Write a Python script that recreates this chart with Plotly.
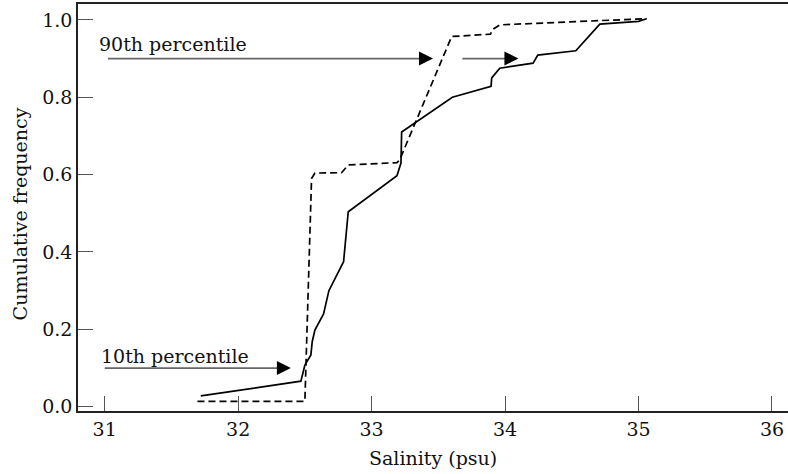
import plotly.graph_objects as go

# Solid curve (salinity, cumulative frequency)
solid_x = [31.72, 32.47, 32.50, 32.545, 32.555, 32.575, 32.64, 32.68, 32.79, 32.825,
           33.19, 33.22, 33.225, 33.605, 33.895, 33.90, 33.96, 34.21, 34.245, 34.53,
           34.71, 35.00, 35.06]
solid_y = [0.028, 0.066, 0.108, 0.134, 0.168, 0.198, 0.24, 0.30, 0.375, 0.504,
           0.597, 0.63, 0.71, 0.80, 0.828, 0.85, 0.875, 0.888, 0.909, 0.92,
           0.989, 0.996, 1.003]

# Dashed curve
dash_x = [31.695, 32.50, 32.55, 32.575, 32.775, 32.825, 33.19, 33.21, 33.60,
          33.89, 33.91, 33.96, 34.705, 35.06]
dash_y = [0.014, 0.014, 0.59, 0.604, 0.605, 0.625, 0.631, 0.638, 0.957,
          0.963, 0.976, 0.987, 0.998, 1.003]

x_ticks = [31, 32, 33, 34, 35, 36]
y_ticks = [0.0, 0.2, 0.4, 0.6, 0.8, 1.0]
y_tick_text = ["0.0", "0.2", "0.4", "0.6", "0.8", "1.0"]

# Percentile arrows: (x_start, x_end, y)
arrow_starts = [31.025, 33.68, 31.0]
arrow_ends = [33.46, 34.10, 32.395]
arrow_levels = [0.9, 0.9, 0.1]
label_texts = ["90th percentile", "10th percentile"]
label_x = [30.942, 30.957]
label_y = [0.938, 0.131]

FONT = "DejaVu Serif"
INK = "#111111"

fig = go.Figure()
fig.add_trace(go.Scatter(x=solid_x, y=solid_y, mode="lines",
                         line=dict(color="black", width=1.7), showlegend=False))
fig.add_trace(go.Scatter(x=dash_x, y=dash_y, mode="lines",
                         line=dict(color="black", width=1.7, dash="7px,4px"),
                         showlegend=False))

for xs, xe, yv in zip(arrow_starts, arrow_ends, arrow_levels):
    fig.add_shape(type="line", x0=xs, x1=xe - 0.05, y0=yv, y1=yv,
                  xref="x", yref="y", line=dict(color="#666666", width=1.8))
    fig.add_annotation(x=xe, y=yv, ax=-12, ay=0, axref="pixel", ayref="pixel",
                       xref="x", yref="y", text="", showarrow=True,
                       arrowhead=2, arrowsize=1.4, arrowwidth=2,
                       arrowcolor="black")

for t, lx, ly in zip(label_texts, label_x, label_y):
    fig.add_annotation(x=lx, y=ly, xref="x", yref="y", text=t, showarrow=False,
                       xanchor="left", yanchor="middle",
                       font=dict(family=FONT, size=19, color=INK))

# Axis titles placed as paper annotations
fig.add_annotation(x=0.5, y=-0.115, xref="paper", yref="paper",
                   text="Salinity (psu)", showarrow=False,
                   xanchor="center", yanchor="middle",
                   font=dict(family=FONT, size=19, color=INK))
fig.add_annotation(x=-0.082, y=0.485, xref="paper", yref="paper",
                   text="Cumulative frequency", showarrow=False, textangle=-90,
                   xanchor="center", yanchor="middle",
                   font=dict(family=FONT, size=19, color=INK))

fig.update_layout(
    width=788, height=474,
    margin=dict(l=78, r=0, t=4, b=63, autoexpand=False),
    plot_bgcolor="white", paper_bgcolor="white",
    font=dict(family=FONT, size=19, color=INK),
)
fig.update_xaxes(range=[30.8, 36.12], tickvals=x_ticks, ticks="inside", ticklen=15,
                 tickcolor="#555555", tickwidth=1.3, showgrid=False, zeroline=False,
                 showline=True, linecolor="#222222", linewidth=1.6, mirror=True,
                 automargin=False,
                 tickfont=dict(family=FONT, size=19, color=INK))
fig.update_yaxes(range=[-0.011, 1.041], tickvals=y_ticks, ticktext=y_tick_text,
                 ticks="inside", ticklen=15, tickcolor="#555555", tickwidth=1.3,
                 showgrid=False, zeroline=False, showline=True, linecolor="#222222",
                 linewidth=1.6, automargin=False,
                 tickfont=dict(family=FONT, size=19, color=INK))

fig.write_html("out.html", config={"displayModeBar": False},
               post_script="document.body.style.margin='0px';document.body.style.padding='0px';")
